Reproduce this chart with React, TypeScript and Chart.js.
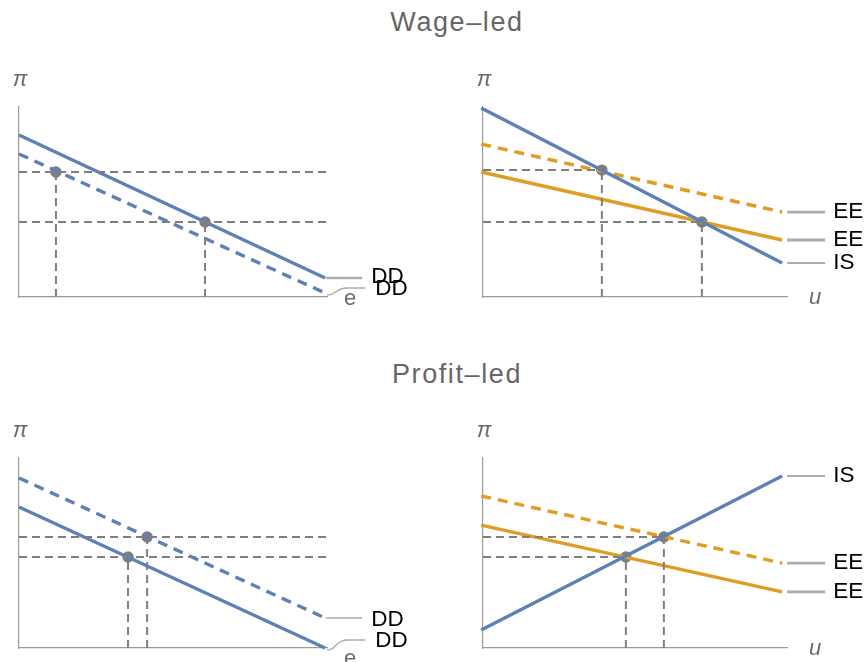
import React, { useEffect, useRef } from "react";
import { Chart, registerables } from "chart.js";

Chart.register(...registerables);

// ---------------- data ----------------
const titles = ["Wage–led", "Profit–led"];
const yAxisLabel = "π";

// x positions of the line ends (left panels: e, right panels: u)
const lineXLeft = [0, 99.4];
const lineXRight = [-0.6, 98.4];

// Wage-led, demand side (e, π)
const wageDD = [85.3, 10];
const wageDDShifted = [75.3, 2.1];
const wageDDEqE = [12, 60.4];
const wageDDEqPi = [65.8, 39.5];

// Wage-led, IS / EE (u, π)
const wageIS = [99.5, 17.9];
const wageEE = [65.8, 30];
const wageEEShifted = [80.5, 44.7];
const wageEqU = [39.1, 72];
const wageEqPi = [66.8, 39.5];

// Profit-led, demand side (e, π)
const profitDD = [74.2, 0];
const profitDDShifted = [89.5, 15.8];
const profitDDEqE = [35.4, 41.6];
const profitDDEqPi = [47.9, 58.4];

// Profit-led, IS / EE (u, π)
const profitIS = [9.5, 90.5];
const profitEE = [64.7, 29.5];
const profitEEShifted = [80, 44.7];
const profitEqU = [47, 59.5];
const profitEqPi = [47.9, 58.4];

// ---------------- styles ----------------
const BLUE = "#5E81B5";
const ORANGE = "#E19C24";
const POINT = "#7d7d7d";
const REF = "#7f7f7f";
const AXIS = "#9a9a9a";
const LEADER = "#acacac";
const LABEL_FONT = '22.5px "Liberation Sans", Arial, sans-serif';
const AXIS_FONT = 'italic 22px "Liberation Sans", Arial, sans-serif';

type Curve = {
  xs: number[];
  ys: number[];
  color: string;
  dashed: boolean;
  label: string;
  leaderWidth: number;
  rise?: number;
  textDy?: number;
};

type PanelCfg = {
  left: number;
  top: number;
  w: number;
  h: number;
  pad: { left: number; right: number; top: number; bottom: number };
  xLabel: string;
  xLabelItalic: boolean;
  xLabelDx: number;
  xLabelDy: number;
  curves: Curve[];
  eqX: number[];
  eqY: number[];
  hToAxisEnd: boolean;
  leader: { start: number; end: number; text: number };
};

const panels: PanelCfg[] = [
  {
    left: 0, top: 50, w: 433, h: 270,
    pad: { left: 19, right: 106, top: 57, bottom: 23 },
    xLabel: "e", xLabelItalic: false, xLabelDx: 23, xLabelDy: 2,
    curves: [
      { xs: lineXLeft, ys: wageDD, color: BLUE, dashed: false, label: "DD", leaderWidth: 2.5, textDy: -1 },
      { xs: lineXLeft, ys: wageDDShifted, color: BLUE, dashed: true, label: "DD", leaderWidth: 1.5, rise: 5 },
    ],
    eqX: wageDDEqE, eqY: wageDDEqPi, hToAxisEnd: true,
    leader: { start: 1, end: 37, text: 46 },
  },
  {
    left: 433, top: 50, w: 434, h: 270,
    pad: { left: 50, right: 80, top: 57, bottom: 23 },
    xLabel: "u", xLabelItalic: true, xLabelDx: 28, xLabelDy: 1,
    curves: [
      { xs: lineXRight, ys: wageIS, color: BLUE, dashed: false, label: "IS", leaderWidth: 2 },
      { xs: lineXRight, ys: wageEE, color: ORANGE, dashed: false, label: "EE", leaderWidth: 2.8 },
      { xs: lineXRight, ys: wageEEShifted, color: ORANGE, dashed: true, label: "EE", leaderWidth: 2.8 },
    ],
    eqX: wageEqU, eqY: wageEqPi, hToAxisEnd: false,
    leader: { start: 5, end: 43, text: 51 },
  },
  {
    left: 0, top: 400, w: 433, h: 262,
    pad: { left: 19, right: 106, top: 58, bottom: 14 },
    xLabel: "e", xLabelItalic: false, xLabelDx: 23, xLabelDy: 11,
    curves: [
      { xs: lineXLeft, ys: profitDD, color: BLUE, dashed: false, label: "DD", leaderWidth: 1.5, rise: 8 },
      { xs: lineXLeft, ys: profitDDShifted, color: BLUE, dashed: true, label: "DD", leaderWidth: 1.5, textDy: 2 },
    ],
    eqX: profitDDEqE, eqY: profitDDEqPi, hToAxisEnd: true,
    leader: { start: 1, end: 37, text: 46 },
  },
  {
    left: 433, top: 400, w: 434, h: 262,
    pad: { left: 50, right: 80, top: 58, bottom: 14 },
    xLabel: "u", xLabelItalic: true, xLabelDx: 28, xLabelDy: 1,
    curves: [
      { xs: lineXRight, ys: profitIS, color: BLUE, dashed: false, label: "IS", leaderWidth: 2 },
      { xs: lineXRight, ys: profitEE, color: ORANGE, dashed: false, label: "EE", leaderWidth: 2.8 },
      { xs: lineXRight, ys: profitEEShifted, color: ORANGE, dashed: true, label: "EE", leaderWidth: 2.8 },
    ],
    eqX: profitEqU, eqY: profitEqPi, hToAxisEnd: false,
    leader: { start: 5, end: 43, text: 51 },
  },
];

function buildDatasets(cfg: PanelCfg) {
  const ds: any[] = [];
  cfg.eqX.forEach((ex, i) => {
    const ey = cfg.eqY[i];
    ds.push({
      data: [{ x: 0, y: ey }, { x: cfg.hToAxisEnd ? 100 : ex, y: ey }],
      showLine: true, borderColor: REF, borderWidth: 2, borderDash: [8, 5],
      pointRadius: 0, clip: false,
    });
    ds.push({
      data: [{ x: ex, y: 0 }, { x: ex, y: ey }],
      showLine: true, borderColor: REF, borderWidth: 2, borderDash: [8, 5],
      pointRadius: 0, clip: false,
    });
  });
  cfg.curves.forEach((c) => {
    ds.push({
      data: c.xs.map((x, i) => ({ x, y: c.ys[i] })),
      showLine: true, borderColor: c.color, borderWidth: 3.4,
      borderDash: c.dashed ? [10, 7] : [], pointRadius: 0, clip: false,
    });
  });
  ds.push({
    data: cfg.eqX.map((x, i) => ({ x, y: cfg.eqY[i] })),
    showLine: false, pointRadius: 5.7, pointBackgroundColor: POINT,
    pointBorderWidth: 0, clip: false,
  });
  return ds;
}

function labelPlugin(cfg: PanelCfg) {
  return {
    id: "panelLabels",
    afterDraw(chart: any) {
      const ctx = chart.ctx as CanvasRenderingContext2D;
      const xs = chart.scales.x;
      const ys = chart.scales.y;
      ctx.save();
      cfg.curves.forEach((c) => {
        const px = xs.getPixelForValue(c.xs[c.xs.length - 1]);
        const py = ys.getPixelForValue(c.ys[c.ys.length - 1]);
        const rise = c.rise || 0;
        ctx.strokeStyle = LEADER;
        ctx.lineWidth = c.leaderWidth;
        ctx.setLineDash([]);
        ctx.beginPath();
        if (rise) {
          const sy = py + 2;
          const ty = py - rise;
          ctx.moveTo(px + 2, sy);
          ctx.bezierCurveTo(px + 12, sy, px + 10, ty, px + 22, ty);
          ctx.lineTo(px + cfg.leader.end + 3, ty);
        } else {
          ctx.moveTo(px + cfg.leader.start, py);
          ctx.lineTo(px + cfg.leader.end, py);
        }
        ctx.stroke();
        ctx.fillStyle = "#000";
        ctx.font = LABEL_FONT;
        ctx.textAlign = "left";
        ctx.textBaseline = "middle";
        const tx = px + cfg.leader.text + (rise ? 4 : 0);
        const ty = (rise ? py - rise + 1 : py) + (c.textDy || 0);
        ctx.fillText(c.label, tx, ty);
      });
      ctx.fillStyle = "#6a6a6a";
      ctx.font = AXIS_FONT;
      ctx.textAlign = "center";
      ctx.textBaseline = "middle";
      ctx.fillText(yAxisLabel, xs.left + 1, ys.top - 27);
      ctx.font = cfg.xLabelItalic ? AXIS_FONT : '22px "Liberation Sans", Arial, sans-serif';
      ctx.fillText(cfg.xLabel, xs.right + cfg.xLabelDx, ys.bottom + cfg.xLabelDy);
      ctx.restore();
    },
  };
}

function Panel({ cfg }: { cfg: PanelCfg }) {
  const ref = useRef<HTMLCanvasElement>(null);
  useEffect(() => {
    const axis = {
      type: "linear" as const,
      min: 0,
      max: 100,
      ticks: { display: false },
      grid: { display: false, drawTicks: false },
      border: { display: true, color: AXIS, width: 1.2 },
    };
    const chart = new Chart(ref.current!, {
      type: "scatter",
      data: { datasets: buildDatasets(cfg) },
      options: {
        animation: false,
        responsive: false,
        devicePixelRatio: window.devicePixelRatio || 1,
        layout: { padding: cfg.pad },
        plugins: { legend: { display: false }, tooltip: { enabled: false } },
        events: [],
        scales: { x: { ...axis, position: "bottom" }, y: { ...axis, position: "left" } },
      },
      plugins: [labelPlugin(cfg)],
    });
    return () => chart.destroy();
  }, [cfg]);
  return (
    <canvas
      ref={ref}
      width={cfg.w}
      height={cfg.h}
      style={{ position: "absolute", left: cfg.left, top: cfg.top, width: cfg.w, height: cfg.h }}
    />
  );
}

export default function App() {
  useEffect(() => {
    document.body.style.margin = "0";
    document.body.style.background = "#fff";
  }, []);
  const titleStyle = (top: number): React.CSSProperties => ({
    position: "absolute",
    left: 0,
    width: 914,
    top,
    textAlign: "center",
    font: '27px "Liberation Sans", Arial, sans-serif',
    letterSpacing: "1.6px",
    color: "#666",
    lineHeight: "30px",
  });
  return (
    <div style={{ position: "absolute", left: 0, top: 0, width: 867, height: 662, background: "#fff", overflow: "hidden" }}>
      <div style={titleStyle(7)}>{titles[0]}</div>
      <div style={titleStyle(359)}>{titles[1]}</div>
      {panels.map((p, i) => (
        <Panel key={i} cfg={p} />
      ))}
    </div>
  );
}
